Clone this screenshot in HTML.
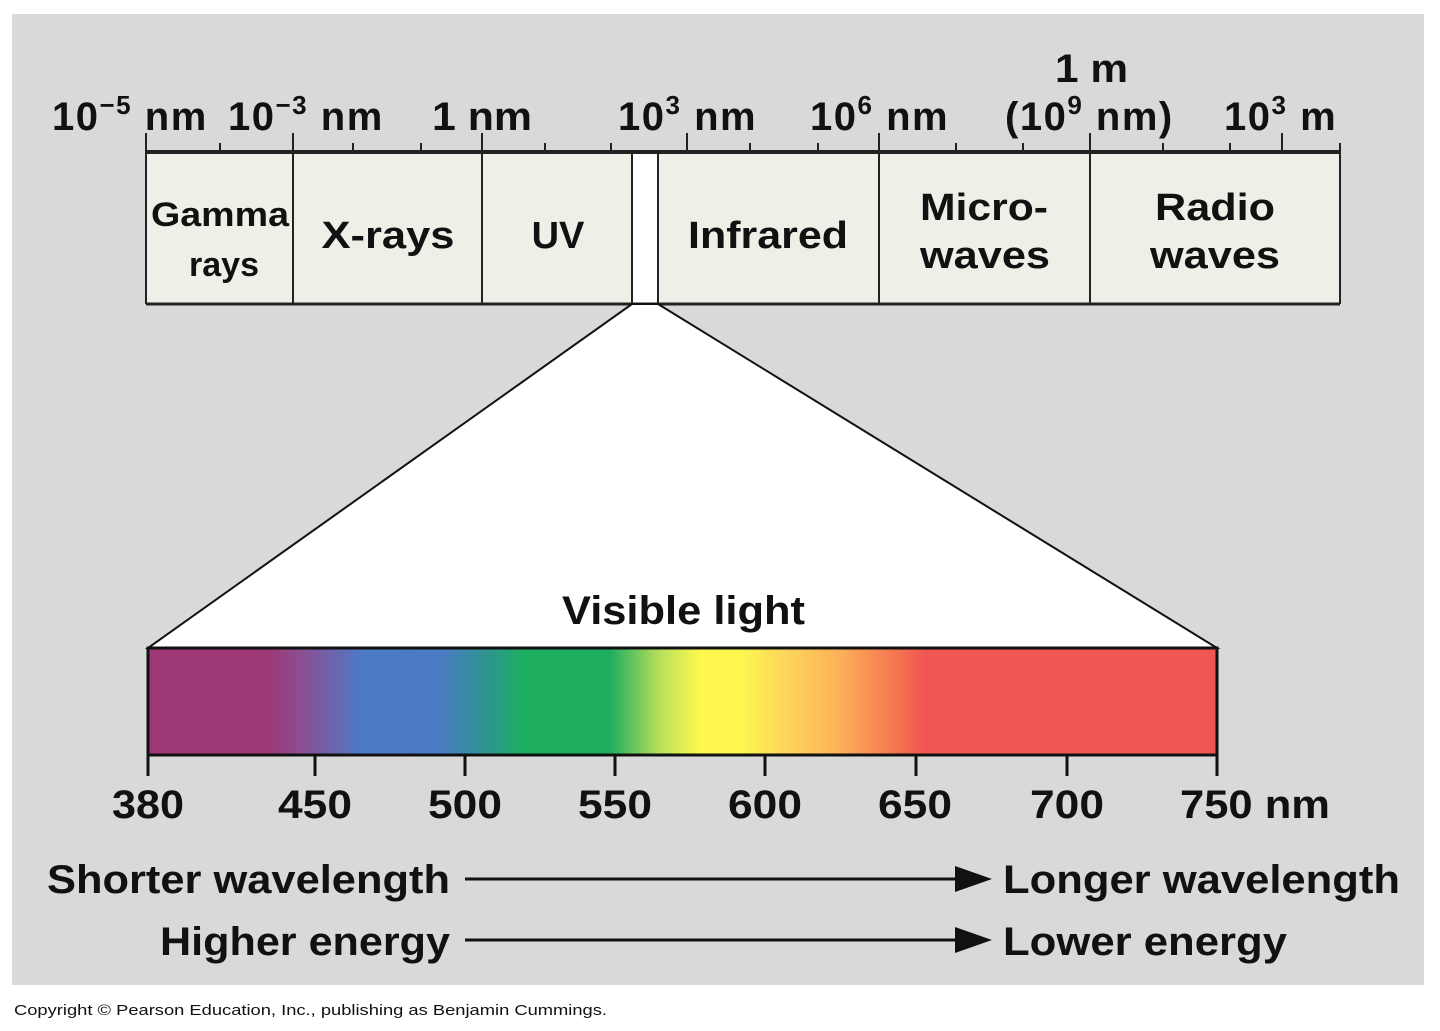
<!DOCTYPE html>
<html><head><meta charset="utf-8"><style>
html,body{margin:0;padding:0;background:#fff;}
svg{display:block;}
text{font-family:"Liberation Sans",Arial,sans-serif;font-weight:bold;fill:#111;}
.sp{letter-spacing:1.5px;}
</style></head><body>
<svg width="1440" height="1031" viewBox="0 0 1440 1031" xmlns="http://www.w3.org/2000/svg">
<defs>
<linearGradient id="spec" x1="0" x2="1" y1="0" y2="0">
<stop offset="0" stop-color="#9e3775"/>
<stop offset="0.109" stop-color="#9e3775"/>
<stop offset="0.145" stop-color="#8a4f94"/>
<stop offset="0.2" stop-color="#4d7ac5"/>
<stop offset="0.273" stop-color="#4a7bc4"/>
<stop offset="0.325" stop-color="#2a9a86"/>
<stop offset="0.35" stop-color="#1eae5f"/>
<stop offset="0.432" stop-color="#1eae5f"/>
<stop offset="0.479" stop-color="#b8e05a"/>
<stop offset="0.516" stop-color="#fdf74f"/>
<stop offset="0.554" stop-color="#fdf74f"/>
<stop offset="0.591" stop-color="#fdda5a"/>
<stop offset="0.647" stop-color="#fdb05a"/>
<stop offset="0.704" stop-color="#f47050"/>
<stop offset="0.727" stop-color="#f05652"/>
<stop offset="1" stop-color="#f05652"/>
</linearGradient>
</defs>
<rect x="12" y="14" width="1412" height="971" fill="#d9d9d9"/>
<rect x="146" y="152" width="1194" height="152" fill="#efefe8"/>
<rect x="632" y="152" width="26" height="152" fill="#fff"/>
<g stroke="#222" stroke-width="2" fill="none">
<line x1="146" y1="152" x2="1340" y2="152" stroke-width="4"/>
<line x1="146" y1="304" x2="1340" y2="304" stroke-width="3"/>
<line x1="146" y1="133" x2="146" y2="304"/>
<line x1="1340" y1="143" x2="1340" y2="304"/>
<line x1="293" y1="133" x2="293" y2="304"/>
<line x1="482" y1="133" x2="482" y2="304"/>
<line x1="632" y1="152" x2="632" y2="304"/>
<line x1="658" y1="152" x2="658" y2="304"/>
<line x1="687" y1="133" x2="687" y2="152"/>
<line x1="879" y1="133" x2="879" y2="304"/>
<line x1="1090" y1="133" x2="1090" y2="304"/>
<line x1="1282" y1="133" x2="1282" y2="152"/>
<line x1="220" y1="143" x2="220" y2="152"/>
<line x1="353" y1="143" x2="353" y2="152"/>
<line x1="421" y1="143" x2="421" y2="152"/>
<line x1="545" y1="143" x2="545" y2="152"/>
<line x1="611" y1="143" x2="611" y2="152"/>
<line x1="750" y1="143" x2="750" y2="152"/>
<line x1="818" y1="143" x2="818" y2="152"/>
<line x1="956" y1="143" x2="956" y2="152"/>
<line x1="1023" y1="143" x2="1023" y2="152"/>
<line x1="1163" y1="143" x2="1163" y2="152"/>
<line x1="1230" y1="143" x2="1230" y2="152"/>
</g>
<polygon points="632,304 658,304 1217,648 148,648" fill="#fff" stroke="#111" stroke-width="2"/>
<rect x="148" y="648" width="1069" height="107" fill="url(#spec)" stroke="#111" stroke-width="3"/>
<g stroke="#111" stroke-width="3">
<line x1="148" y1="755" x2="148" y2="776"/>
<line x1="315" y1="755" x2="315" y2="776"/>
<line x1="465" y1="755" x2="465" y2="776"/>
<line x1="615" y1="755" x2="615" y2="776"/>
<line x1="765" y1="755" x2="765" y2="776"/>
<line x1="916" y1="755" x2="916" y2="776"/>
<line x1="1067" y1="755" x2="1067" y2="776"/>
<line x1="1217" y1="755" x2="1217" y2="776"/>
</g>
<g font-size="40">
<text class="sp" x="52" y="130">10<tspan font-size="26" dy="-16">−5</tspan><tspan dy="16"> nm</tspan></text>
<text class="sp" x="228" y="130">10<tspan font-size="26" dy="-16">−3</tspan><tspan dy="16"> nm</tspan></text>
<text x="432" y="130" textLength="100" lengthAdjust="spacingAndGlyphs">1 nm</text>
<text class="sp" x="618" y="130">10<tspan font-size="26" dy="-16">3</tspan><tspan dy="16"> nm</tspan></text>
<text class="sp" x="810" y="130">10<tspan font-size="26" dy="-16">6</tspan><tspan dy="16"> nm</tspan></text>
<text x="1055" y="82" textLength="73" lengthAdjust="spacingAndGlyphs">1 m</text>
<text class="sp" x="1005" y="130">(10<tspan font-size="26" dy="-16">9</tspan><tspan dy="16"> nm)</tspan></text>
<text class="sp" x="1224" y="130">10<tspan font-size="26" dy="-16">3</tspan><tspan dy="16"> m</tspan></text>
</g>
<g font-size="38" text-anchor="middle">
<text x="220" y="226" font-size="34" textLength="138" lengthAdjust="spacingAndGlyphs">Gamma</text>
<text x="224" y="276" font-size="34">rays</text>
<text x="388" y="248" textLength="133" lengthAdjust="spacingAndGlyphs">X-rays</text>
<text x="558" y="248">UV</text>
<text x="768" y="248" textLength="160" lengthAdjust="spacingAndGlyphs">Infrared</text>
<text x="984" y="220" textLength="128" lengthAdjust="spacingAndGlyphs">Micro-</text>
<text x="985" y="268" textLength="130" lengthAdjust="spacingAndGlyphs">waves</text>
<text x="1215" y="220" textLength="120" lengthAdjust="spacingAndGlyphs">Radio</text>
<text x="1215" y="268" textLength="130" lengthAdjust="spacingAndGlyphs">waves</text>
</g>
<text x="562" y="624" font-size="40" textLength="243" lengthAdjust="spacingAndGlyphs">Visible light</text>
<g font-size="40">
<text x="112" y="818" textLength="72" lengthAdjust="spacingAndGlyphs">380</text>
<text x="278" y="818" textLength="74" lengthAdjust="spacingAndGlyphs">450</text>
<text x="428" y="818" textLength="74" lengthAdjust="spacingAndGlyphs">500</text>
<text x="578" y="818" textLength="74" lengthAdjust="spacingAndGlyphs">550</text>
<text x="728" y="818" textLength="74" lengthAdjust="spacingAndGlyphs">600</text>
<text x="878" y="818" textLength="74" lengthAdjust="spacingAndGlyphs">650</text>
<text x="1030" y="818" textLength="74" lengthAdjust="spacingAndGlyphs">700</text>
<text x="1180" y="818" textLength="150" lengthAdjust="spacingAndGlyphs">750 nm</text>
</g>
<g font-size="40">
<text x="47" y="893" textLength="403" lengthAdjust="spacingAndGlyphs">Shorter wavelength</text>
<text x="1003" y="893" textLength="397" lengthAdjust="spacingAndGlyphs">Longer wavelength</text>
<text x="160" y="955" textLength="290" lengthAdjust="spacingAndGlyphs">Higher energy</text>
<text x="1003" y="955" textLength="284" lengthAdjust="spacingAndGlyphs">Lower energy</text>
</g>
<g stroke="#111" stroke-width="3">
<line x1="465" y1="879" x2="965" y2="879"/>
<line x1="465" y1="940" x2="965" y2="940"/>
</g>
<polygon points="955,866 992,879 955,892" fill="#111"/>
<polygon points="955,927 992,940 955,953" fill="#111"/>
<text x="14" y="1015" font-size="15" style="font-weight:normal" fill="#333" textLength="593" lengthAdjust="spacingAndGlyphs">Copyright © Pearson Education, Inc., publishing as Benjamin Cummings.</text>
</svg>
</body></html>
